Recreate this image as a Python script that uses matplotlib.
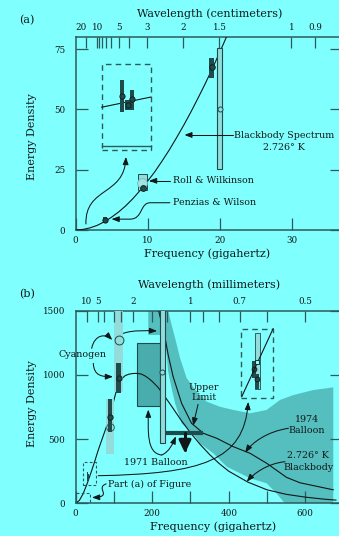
import numpy as np
import matplotlib
matplotlib.use('Agg')
import matplotlib.pyplot as plt
from matplotlib.patches import Rectangle, FancyArrowPatch, ArrowStyle
from matplotlib.path import Path

# ---------------- data: panel (a) ----------------
bb_a_freq = [0, 1, 2, 3, 4, 5, 6, 7, 8, 9, 10, 11, 12, 13, 14, 15, 16, 17, 18, 19, 20, 21, 22]
bb_a_energy = [0, 0.22, 0.87, 1.9, 3.4, 5.3, 7.5, 10.1, 13.1, 16.5, 20.2, 24.1, 28.5, 33.1,
               38.1, 43.3, 48.8, 54.6, 60.6, 66.9, 73.5, 80.3, 87.3]
pw_freq, pw_energy, pw_lo, pw_hi = [4.03], [4.1], [3.0], [5.3]
rw_freq, rw_energy = [9.28], [19.6]
rw_box_freq, rw_box_energy = [8.72, 9.89], [16.5, 23.2]
mod_freq, mod_energy = [9.42], [17.3]
k_freq, k_energy, k_lo, k_hi = [18.9], [67.7], [62.9], [71.4]
open_freq, open_energy, open_lo, open_hi = [20.0], [50.1], [25.3], [75.3]
# magnified inset of panel (a)
ins_freq = [6.5, 7.24, 7.88]
ins_energy = [55.7, 52.0, 54.2]
ins_lo = [49.0, 49.8, 49.8]
ins_hi = [62.2, 53.9, 58.0]
ins_box_freq, ins_box_energy = [3.64, 10.45], [33.2, 68.7]
ins_line_freq, ins_line_energy = [3.64, 10.45], [50.9, 55.1]
ins_base_energy = 34.9
cm_ticks = [20, 10, 9, 8, 7, 6, 5, 4, 3, 2, 1.5, 1, 0.9]
cm_labels = ['20', '10', '', '', '', '', '5', '', '3', '2', '1.5', '1', '0.9']

# ---------------- data: panel (b) ----------------
bb_b_freq = [0, 10, 20, 30, 40, 50, 60, 70, 80, 90, 100, 110, 120, 130, 140, 150, 160, 170,
             180, 190, 200, 215, 230, 250, 275, 300, 325, 350, 375, 400, 450, 500, 550, 600, 650, 680]
bb_b_energy = [0, 22, 75, 150, 235, 325, 420, 505, 590, 675, 800, 915, 968, 995, 1006, 1011, 1012,
               1008, 995, 975, 950, 905, 845, 760, 650, 550, 460, 380, 310, 250, 165, 105, 70, 48, 32, 25]
b74_freq = [214, 234, 242, 255, 277, 303, 334, 369, 412, 456, 499, 551, 586, 673]
b74_energy = [1540, 1287, 1155, 986, 779, 623, 545, 506, 441, 389, 312, 202, 160, 105]
band_upper_freq = [190, 240, 242, 251, 260, 273, 290, 316, 343, 377, 412, 456, 499, 534, 569, 621, 673]
band_upper_energy = [1600, 1600, 1500, 1389, 1287, 1131, 976, 869, 791, 752, 727, 701, 727, 805, 843, 882, 903]
band_lower_freq = [673, 560, 543, 525, 499, 456, 395, 360, 325, 308, 277, 260, 251, 242, 238, 233, 190]
band_lower_energy = [-10, -10, 12, 78, 156, 195, 285, 389, 467, 540, 623, 779, 896, 1025, 1155, 1311, 1311]
cy_freq = [113, 90]
cy_light_lo, cy_light_hi = [869, 381], [1650, 810]
cy_dark_lo, cy_dark_hi = [861, 558], [1090, 810]
cy_dark_energy = [973, 674]
cy_open_energy = [1272, 597]
tb_freq, tb_lo, tb_hi, tb_energy = [227], [467], [1650], [1020]
b71_freq, b71_lo, b71_hi = [161, 221], [758], [1246]
ul_freq, ul_energy = [236, 334], [550]
ul_arrow_freq = 286
# magnified 1974 inset
ins74_box_freq, ins74_box_energy = [431, 516], [818, 1355]
ins74_bar_freq, ins74_bar_lo, ins74_bar_hi = [475.5], [888], [1324]
ins74_sq = (475, 1103)
ins74_dark_freq, ins74_dark_lo, ins74_dark_hi = [465.5, 473], [973, 888], [1108, 1007]
ins74_dark_energy = [1046, 968]
ins74_line_freq, ins74_line_energy = [434, 516], [830, 1360]
mini_box1 = ([0, 37], [0, 80])
mini_box2 = ([20, 53], [143, 320])
mini_freq, mini_lo, mini_hi = [31, 33, 35], [175, 180, 178], [240, 215, 228]
mm_ticks = [10, 5, 4, 3, 2.5, 2, 1.5, 1.25, 1, 0.9, 0.8, 0.7, 0.6, 0.5]
mm_labels = ['10', '5', '', '', '', '2', '', '', '1', '', '', '0.7', '', '0.5']

# ---------------- style ----------------
BG = '#80ffff'
DARK = '#1e4b4b'
INK = '#101818'
SPINE = '#2d5a5a'
BAND = '#55bebe'
LIGHT = '#93dcdc'
BOX = '#4aadad'
plt.rcParams['font.family'] = ['DejaVu Serif']
FS_LAB = 8
FS_TICK = 6.3
FS_ANN = 6.8

W, H = 339, 536
fig = plt.figure(figsize=(W / 100, H / 100), dpi=100, facecolor=BG)


def px_ax(l, t, r, b):
    return [l / W, 1 - b / H, (r - l) / W, (b - t) / H]


def style(ax):
    ax.set_facecolor('none')
    for s in ax.spines.values():
        s.set_color(SPINE)
        s.set_linewidth(1.1)
    ax.tick_params(direction='in', length=8.5, width=0.9, color=SPINE, labelsize=FS_TICK,
                   labelcolor=INK, right=True, which='both')
    ax.tick_params(axis='y', pad=7.5)
    ax.tick_params(axis='x', pad=4)


def arrow(ax, verts, codes=None, lw=0.75, hl=4.5, hw=1.7, z=7):
    p = Path(verts, codes)
    a = FancyArrowPatch(path=p, arrowstyle=ArrowStyle('-|>', head_length=hl, head_width=hw),
                        mutation_scale=1, lw=lw, color=INK, zorder=z)
    ax.add_patch(a)


C4 = [Path.MOVETO, Path.CURVE4, Path.CURVE4, Path.CURVE4]
L2C = [Path.MOVETO, Path.LINETO, Path.CURVE4, Path.CURVE4, Path.CURVE4, Path.LINETO]

# =============== panel (a) ===============
ax = fig.add_axes(px_ax(75.5, 37.0, 342, 230))
style(ax)
ax.set_xlim(0, 37)
ax.set_ylim(0, 80)
ax.set_xticks([0, 10, 20, 30])
ax.set_yticks([0, 25, 50, 75])

ax.plot(bb_a_freq, bb_a_energy, color=INK, lw=0.8, zorder=3)
# open tall bar
ax.bar(open_freq, [open_hi[0] - open_lo[0]], bottom=open_lo, width=0.62, color=LIGHT,
       edgecolor=DARK, lw=0.8, zorder=4)
ax.plot(open_freq, open_energy, 'o', ms=3.6, mfc=LIGHT, mec=DARK, mew=0.7, zorder=5)
# dark bar near 19 GHz
ax.bar(k_freq, [k_hi[0] - k_lo[0]], bottom=k_lo, width=0.62, color=DARK, zorder=4)
ax.plot(k_freq, k_energy, 'o', ms=4, mfc=DARK, mec=INK, mew=0.6, zorder=5)
# Roll & Wilkinson
ax.bar([np.mean(rw_box_freq)], [rw_box_energy[1] - rw_box_energy[0]], bottom=[rw_box_energy[0]],
       width=rw_box_freq[1] - rw_box_freq[0], color=LIGHT, edgecolor=DARK, lw=0.7, zorder=4)
ax.plot(rw_freq, rw_energy, 'o', ms=7, mfc='#9fe3e3', mec='#6fbcbc', mew=0.6, zorder=5)
ax.plot(mod_freq, mod_energy, 'o', ms=4.2, mfc=DARK, mec=INK, mew=0.6, zorder=6)
# Penzias & Wilson
ax.bar(pw_freq, [pw_hi[0] - pw_lo[0]], bottom=pw_lo, width=0.55, color=DARK, zorder=4)
ax.plot(pw_freq, pw_energy, 'o', ms=3.8, mfc=DARK, mec=INK, mew=0.6, zorder=5)
# inset
ax.add_patch(Rectangle((ins_box_freq[0], ins_box_energy[0]), ins_box_freq[1] - ins_box_freq[0],
                       ins_box_energy[1] - ins_box_energy[0], fill=False, ec=SPINE, lw=1.0,
                       ls=(0, (4, 3)), zorder=3))
ax.plot(ins_box_freq, [ins_base_energy] * 2, color=SPINE, lw=1.0, zorder=3)
ax.plot(ins_line_freq, ins_line_energy, color=INK, lw=0.8, zorder=3)
ax.bar(ins_freq, np.subtract(ins_hi, ins_lo), bottom=ins_lo, width=0.6, color=DARK, zorder=4)
ax.plot(ins_freq, ins_energy, 'o', ms=3.8, mfc=DARK, mec=INK, mew=0.6, zorder=5)

# annotations (a)
ax.text(28.9, 36.7, 'Blackbody Spectrum\n2.726° K', ha='center', va='center', fontsize=FS_ANN,
        color=INK, linespacing=1.45)
arrow(ax, [(21.9, 39.4), (15.1, 39.4)])
ax.text(13.5, 20.4, 'Roll & Wilkinson', ha='left', va='center', fontsize=FS_ANN, color=INK)
arrow(ax, [(13.1, 20.4), (10.2, 20.4)])
ax.text(13.5, 11.3, 'Penzias & Wilson', ha='left', va='center', fontsize=FS_ANN, color=INK)
arrow(ax, [(13.1, 11.3), (10.4, 11.3), (8.9, 11.3), (9.4, 4.6), (7.6, 4.5), (5.0, 4.5)], L2C)
arrow(ax, [(1.45, 2.5), (1.3, 18.0), (6.8, 14.0), (7.0, 30.3)], C4)

# top axis (a)
axt = ax.twiny()
axt.set_xlim(ax.get_xlim())
axt.set_xticks([29.979 / v for v in cm_ticks])
axt.set_xticklabels(cm_labels)
for s in axt.spines.values():
    s.set_visible(False)
axt.tick_params(direction='in', length=8, width=0.9, color=SPINE, labelsize=FS_TICK,
                labelcolor=INK, pad=3.5)
axt.get_xticklabels()[0].set_ha('right')

fig.text(210 / W, 1 - 13.5 / H, 'Wavelength (centimeters)', ha='center', va='center',
         fontsize=FS_LAB, color=INK)
fig.text(207 / W, 1 - 254 / H, 'Frequency (gigahertz)', ha='center', va='center',
         fontsize=FS_LAB, color=INK)
fig.text(32 / W, 1 - 137 / H, 'Energy Density', ha='center', va='center', rotation=90,
         fontsize=FS_LAB, color=INK)
fig.text(27 / W, 1 - 20.5 / H, '(a)', ha='center', va='center', fontsize=FS_LAB, color=INK)

# =============== panel (b) ===============
bx = fig.add_axes(px_ax(75.5, 310.7, 342, 503.3))
style(bx)
bx.set_xlim(0, 695.8)
bx.set_ylim(0, 1500)
bx.set_xticks([0, 200, 400, 600])
bx.set_xticks([100, 300, 500], minor=True)
bx.set_yticks([0, 500, 1000, 1500])

bx.fill(band_upper_freq + band_lower_freq, band_upper_energy + band_lower_energy,
        color=BAND, lw=0, zorder=1)
bx.bar([np.mean(b71_freq)], [b71_hi[0] - b71_lo[0]], bottom=b71_lo,
       width=b71_freq[1] - b71_freq[0], color=BOX, edgecolor=DARK, lw=0.8, zorder=2)
bx.plot(bb_b_freq, bb_b_energy, color=INK, lw=0.8, zorder=3)
bx.plot(b74_freq, b74_energy, color=INK, lw=0.8, zorder=3)
# cyanogen
bx.bar(cy_freq, np.subtract(cy_light_hi, cy_light_lo), bottom=cy_light_lo, width=23,
       color=LIGHT, lw=0, zorder=4)
bx.bar(cy_freq, np.subtract(cy_dark_hi, cy_dark_lo), bottom=cy_dark_lo, width=12,
       color=DARK, zorder=5)
bx.plot(cy_freq, cy_dark_energy, 'o', ms=3.8, mfc=DARK, mec=INK, mew=0.6, zorder=6)
bx.plot(cy_freq[:1], cy_open_energy[:1], 'o', ms=6.4, mfc=LIGHT, mec=DARK, mew=0.7, zorder=6)
bx.plot(cy_freq[1:], cy_open_energy[1:], 'o', ms=5.5, mfc='none', mec=DARK, mew=0.6, zorder=6)
# tall thin bar
bx.bar(tb_freq, [tb_hi[0] - tb_lo[0]], bottom=tb_lo, width=13, color=LIGHT, edgecolor=DARK,
       lw=0.8, zorder=4)
bx.plot(tb_freq, tb_energy, 'o', ms=3.6, mfc=LIGHT, mec=DARK, mew=0.7, zorder=6)
# upper limit
bx.plot(ul_freq, ul_energy * 2, color=DARK, lw=3, solid_capstyle='butt', zorder=6)
arrow(bx, [(ul_arrow_freq, ul_energy[0]), (ul_arrow_freq, 390)], lw=2.2, hl=7.5, hw=3.6, z=6)
# 1974 inset
bx.add_patch(Rectangle((ins74_box_freq[0], ins74_box_energy[0]),
                       ins74_box_freq[1] - ins74_box_freq[0],
                       ins74_box_energy[1] - ins74_box_energy[0], fill=False, ec=SPINE, lw=1.0,
                       ls=(0, (4, 3)), zorder=3))
bx.bar(ins74_bar_freq, [ins74_bar_hi[0] - ins74_bar_lo[0]], bottom=ins74_bar_lo, width=12,
       color=LIGHT, edgecolor=DARK, lw=0.6, zorder=4)
bx.bar(ins74_dark_freq, np.subtract(ins74_dark_hi, ins74_dark_lo), bottom=ins74_dark_lo,
       width=11, color=DARK, zorder=5)
bx.plot(ins74_dark_freq, ins74_dark_energy, 'o', ms=3.5, mfc=DARK, mec=INK, mew=0.6, zorder=6)
bx.plot(ins74_line_freq, ins74_line_energy, color=INK, lw=0.8, zorder=6)
bx.plot([ins74_sq[0]], [ins74_sq[1]], 's', ms=3.5, mfc=BG, mec=INK, mew=0.6, zorder=7)
# mini boxes (part a)
for (fx, fy) in (mini_box1, mini_box2):
    bx.add_patch(Rectangle((fx[0], fy[0]), fx[1] - fx[0], fy[1] - fy[0], fill=False, ec=SPINE,
                           lw=0.8, ls=(0, (2.5, 2)), zorder=3))
bx.bar(mini_freq, np.subtract(mini_hi, mini_lo), bottom=mini_lo, width=2.5, color=DARK, zorder=4)

# annotations (b)
bx.text(18.3, 1160, 'Cyanogen', ha='center', va='center', fontsize=FS_ANN, color=INK)
arrow(bx, [(42.3, 1207), (50, 1320), (80, 1320), (96, 1272)], C4)
arrow(bx, [(46.5, 1090), (48, 990), (70, 986), (98, 986)], C4)
arrow(bx, [(125, 1324), (150, 1350), (185, 1345), (213, 1342)], C4)
bx.text(336, 863, 'Upper\nLimit', ha='center', va='center', fontsize=FS_ANN, color=INK,
        linespacing=1.2)
arrow(bx, [(320, 770), (307, 605)])
bx.text(209, 316, '1971 Balloon', ha='center', va='center', fontsize=FS_ANN, color=INK)
arrow(bx, [(225, 376), (185, 390), (190, 560), (190, 730)], C4)
arrow(bx, [(225, 376), (245, 400), (255, 470), (262, 522)], C4)
bx.text(604, 610, '1974\nBalloon', ha='center', va='center', fontsize=FS_ANN, color=INK,
        linespacing=1.25)
arrow(bx, [(556, 584), (500, 560), (460, 470), (443, 394)], C4)
bx.text(608, 328, '2.726° K\nBlackbody', ha='center', va='center', fontsize=FS_ANN, color=INK,
        linespacing=1.4)
arrow(bx, [(547, 324), (500, 310), (465, 230), (447, 168)], C4)
bx.text(85.6, 148, 'Part (a) of Figure', ha='left', va='center', fontsize=FS_ANN, color=INK)
arrow(bx, [(80, 151), (50, 120), (100, 50), (43, 45)], C4)
arrow(bx, [(59.5, 215), (330, 230), (440, 330), (451, 790)], C4)

# top axis (b)
bxt = bx.twiny()
bxt.set_xlim(bx.get_xlim())
bxt.set_xticks([299.79 / v for v in mm_ticks])
bxt.set_xticklabels(mm_labels)
for s in bxt.spines.values():
    s.set_visible(False)
bxt.tick_params(direction='in', length=8, width=0.9, color=SPINE, labelsize=FS_TICK,
                labelcolor=INK, pad=3.5)

fig.text(209 / W, 1 - 285 / H, 'Wavelength (millimeters)', ha='center', va='center',
         fontsize=FS_LAB, color=INK)
fig.text(213 / W, 1 - 526.5 / H, 'Frequency (gigahertz)', ha='center', va='center',
         fontsize=FS_LAB, color=INK)
fig.text(32 / W, 1 - 403.5 / H, 'Energy Density', ha='center', va='center', rotation=90,
         fontsize=FS_LAB, color=INK)
fig.text(27.5 / W, 1 - 294 / H, '(b)', ha='center', va='center', fontsize=FS_LAB, color=INK)

fig.savefig('out.png', dpi=100, facecolor=BG)
